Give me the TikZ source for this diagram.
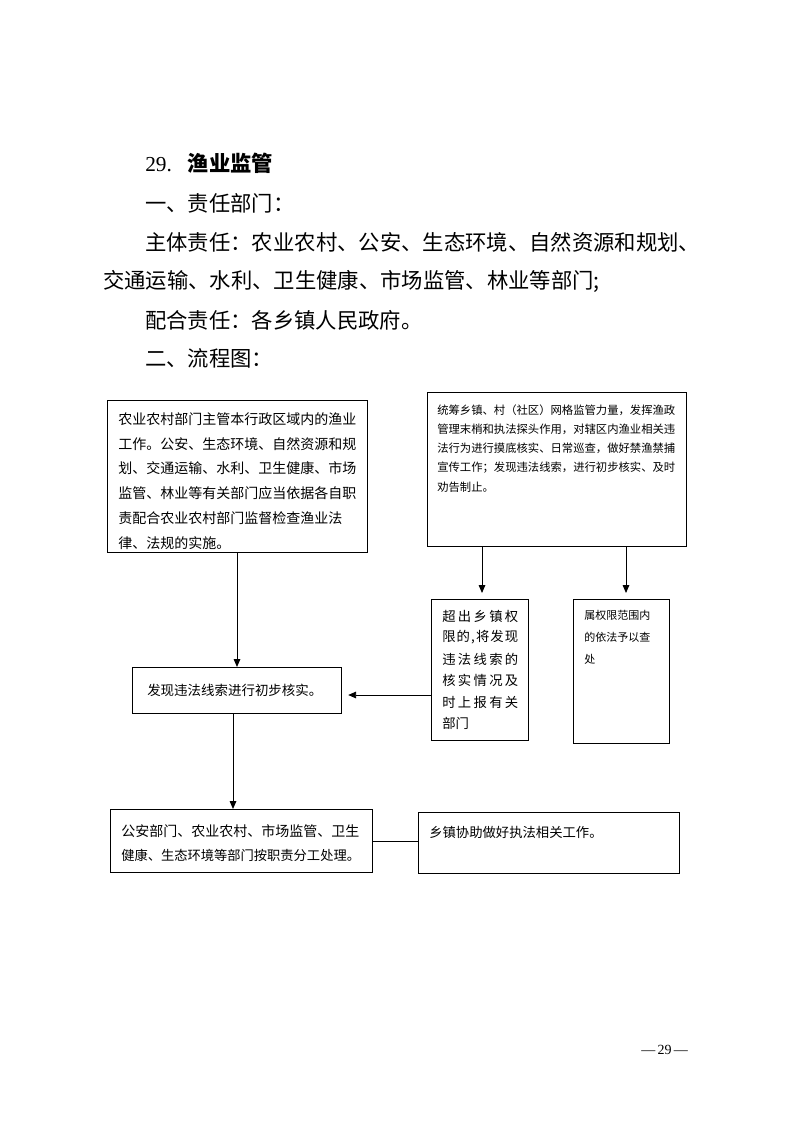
\documentclass[tikz,border=0pt]{standalone}
\usepackage{fontspec}
\setmainfont{Liberation Serif}
\newfontfamily\cjk{Noto Sans CJK SC}
\usetikzlibrary{arrows.meta}
\makeatletter
\def\spreadto#1#2{\hbox to #1{\spread@a#2\relax}}
\def\spread@a#1{#1\spread@b}
\def\spread@b#1{\ifx\relax#1\else\hfil#1\expandafter\spread@b\fi}
\makeatother
\begin{document}
\begin{tikzpicture}[x=0.75pt,y=-0.75pt,
  box/.style={draw, line width=0.9pt, inner sep=0pt, anchor=north west},
  arr/.style={line width=0.7pt, -{Triangle[length=6pt,width=5pt]}},
  plain/.style={line width=0.7pt},
  ln/.style={anchor=west, inner sep=0pt},
  hd/.style={ln, font=\cjk\fontsize{16}{16}\selectfont},
  fa/.style={ln, font=\cjk\fontsize{10.5}{12}\selectfont},
  fb/.style={ln, font=\cjk\fontsize{8.5}{10}\selectfont},
  fc/.style={ln, font=\cjk\fontsize{10}{12}\selectfont},
  fd/.style={ln, font=\cjk\fontsize{8.25}{10}\selectfont}]
\useasboundingbox (0,0) rectangle (793,1122);
\fill[white] (0,0) rectangle (793,1122);

% header
\node[hd] (h1) at (145,163) {{\rmfamily 29.}\hspace{12pt}{\bfseries 渔业监管}};
\node[hd] (h2) at (145,203) {一、责任部门：};
\node[hd] (h3) at (145,242) {\spreadto{416.25pt}{主体责任：农业农村、公安、生态环境、自然资源和规划、}};
\node[hd] (h4) at (103,281) {交通运输、水利、卫生健康、市场监管、林业等部门;};
\node[hd] (h5) at (145,320) {配合责任：各乡镇人民政府。};
\node[hd] (h6) at (145,358) {二、流程图：};

% boxes
\node[box, minimum width=195pt, minimum height=114pt] (b1) at (107,400) {};
\node[box, minimum width=194.25pt, minimum height=115.5pt] (b2) at (427,392) {};
\node[box, minimum width=72.75pt, minimum height=105.75pt] (b3) at (431,599) {};
\node[box, minimum width=72pt, minimum height=108pt] (b4) at (573,599) {};
\node[box, minimum width=156.75pt, minimum height=34.5pt] (b5) at (132,667) {};
\node[box, minimum width=196.5pt, minimum height=47.25pt] (b6) at (110,809) {};
\node[box, minimum width=195.75pt, minimum height=45.75pt] (b7) at (418,812) {};

% box 1 text
\foreach \t [count=\i from 0] in {农业农村部门主管本行政区域内的渔业,
  工作。公安、生态环境、自然资源和规,
  划、交通运输、水利、卫生健康、市场,
  监管、林业等有关部门应当依据各自职,
  责配合农业农村部门监督检查渔业法,
  律、法规的实施。}
  \node[fa] (b1t\i) at (118,{419+24.8*\i}) {\t};

% box 2 text
\foreach \t [count=\i from 0] in {统筹乡镇、村（社区）网格监管力量，发挥渔政,
  管理末梢和执法探头作用，对辖区内渔业相关违,
  法行为进行摸底核实、日常巡查，做好禁渔禁捕,
  宣传工作；发现违法线索，进行初步核实、及时,
  劝告制止。}
  \node[fb] (b2t\i) at (437,{410+19.2*\i}) {\t};

% box 3 text
\node[fc] (b3t0) at (442,616) {\spreadto{57pt}{超出乡镇权}};
\node[fc] (b3t1) at (442,637.5) {\spreadto{57pt}{限的,将发现}};
\node[fc] (b3t2) at (442,659) {\spreadto{57pt}{违法线索的}};
\node[fc] (b3t3) at (442,680.5) {\spreadto{57pt}{核实情况及}};
\node[fc] (b3t4) at (442,702) {\spreadto{57pt}{时上报有关}};
\node[fc] (b3t5) at (442,723.5) {部门};

% box 4 text
\node[fd] (b4t0) at (584,615) {属权限范围内};
\node[fd] (b4t1) at (584,637) {的依法予以查};
\node[fd] (b4t2) at (584,659) {处};

% box 5 text
\node[ln, font=\cjk\fontsize{10.1}{12}\selectfont] (b5t) at (147,690) {发现违法线索进行初步核实。};

% box 6 text
\node[fa] (b6t0) at (121,831) {公安部门、农业农村、市场监管、卫生};
\node[ln, font=\cjk\fontsize{9.95}{12}\selectfont] (b6t1) at (121,855) {健康、生态环境等部门按职责分工处理。};

% box 7 text
\node[fc] (b7t) at (429,832) {乡镇协助做好执法相关工作。};

% footer
\node[ln, font=\fontsize{10.5}{12}\selectfont] (pg) at (641,1050) {—\,29\,—};

% connectors
\coordinate (x1) at (237,0);
\coordinate (x2) at (482,0);
\coordinate (x3) at (626,0);
\coordinate (x4) at (233,0);
\coordinate (y1) at (0,695);
\coordinate (y2) at (0,841);
\draw[arr] (x1 |- b1.south) -- (x1 |- b5.north);
\draw[arr, shorten >=4.5pt] (x2 |- b2.south) -- (x2 |- b3.north);
\draw[arr, shorten >=4.5pt] (x3 |- b2.south) -- (x3 |- b4.north);
\draw[arr, shorten >=4.5pt] (y1 -| b3.west) -- (y1 -| b5.east);
\draw[arr] (x4 |- b5.south) -- (x4 |- b6.north);
\draw[plain] (y2 -| b6.east) -- (y2 -| b7.west);
\end{tikzpicture}
\end{document}
